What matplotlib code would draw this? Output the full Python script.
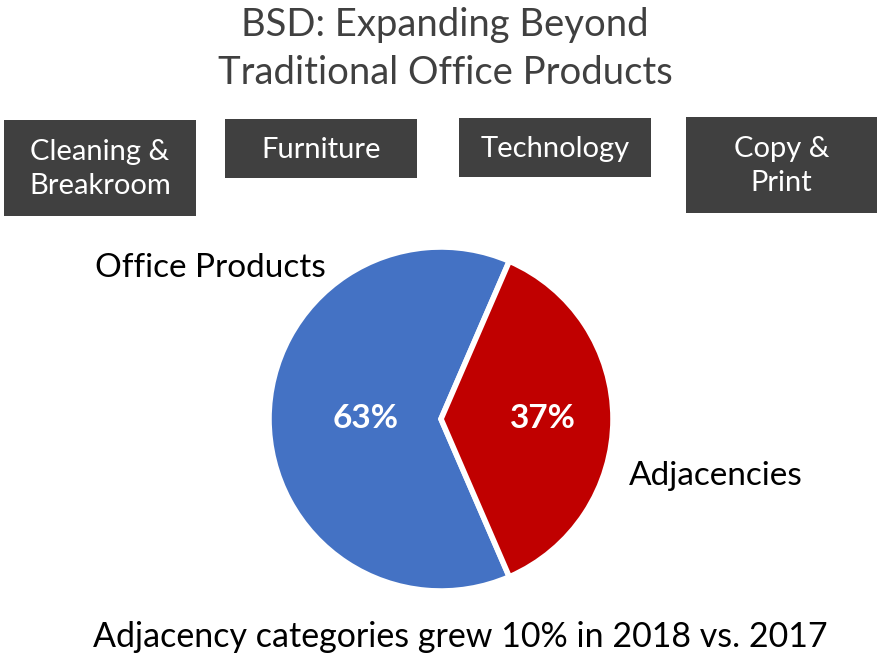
import matplotlib
matplotlib.use("Agg")
import matplotlib.pyplot as plt
from matplotlib.patches import Rectangle
import numpy as np

plt.rcParams['font.family'] = ['Lato', 'DejaVu Sans']

# data
title = "BSD: Expanding Beyond\nTraditional Office Products"
categories = ["Cleaning &\nBreakroom", "Furniture", "Technology", "Copy &\nPrint"]
labels = ["Office Products", "Adjacencies"]
shares = [63, 37]
colors = ["#4472C4", "#C00000"]
footnote = "Adjacency categories grew 10% in 2018 vs. 2017"

W, H = 881, 659
fig = plt.figure(figsize=(W / 100, H / 100), dpi=100)

def fx(px):
    return px / W

def fy(py):
    return 1 - py / H

# title
fig.text(fx(445), fy(49), title, ha="center", va="center", fontsize=27.5,
         color="#404040", linespacing=1.4)

# category boxes (left, top, right, bottom in pixels)
boxes = [(4, 120, 196, 216), (225, 119, 417, 178), (459, 118, 651, 177), (686, 117, 877, 213)]
for (l, t, r, b), name in zip(boxes, categories):
    fig.patches.append(Rectangle((fx(l), fy(b)), fx(r - l), (b - t) / H,
                                 transform=fig.transFigure, facecolor="#404040",
                                 edgecolor="none"))
    fig.text(fx((l + r) / 2), fy((t + b) / 2 + 1), name, ha="center", va="center",
             fontsize=21, color="white", linespacing=1.38)

# pie: center (441, 419), radius 172 px
cx, cy, rad = 441, 419, 172
ax = fig.add_axes([fx(cx - rad), fy(cy + rad), 2 * rad / W, 2 * rad / H])
wedges, texts, autotexts = ax.pie(shares, colors=colors, startangle=66.6,
                                  autopct="%d%%", counterclock=True,
                                  wedgeprops=dict(edgecolor="white", linewidth=4),
                                  textprops=dict(color="white", fontsize=24,
                                                 fontweight="bold"))
ax.set_xlim(-1, 1)
ax.set_ylim(-1, 1)
ax.set_aspect("equal")
ax.axis("off")

autotexts[0].set_position((-0.44, 0.0))
autotexts[1].set_position((0.59, 0.0))

ax.text(-1.34, 0.88, labels[0], ha="center", va="center", fontsize=24, clip_on=False)
ax.text(1.60, -0.33, labels[1], ha="center", va="center", fontsize=24, clip_on=False)

fig.text(fx(460), fy(637), footnote, ha="center", va="center", fontsize=24.5)

fig.savefig("out.png", dpi=100)
